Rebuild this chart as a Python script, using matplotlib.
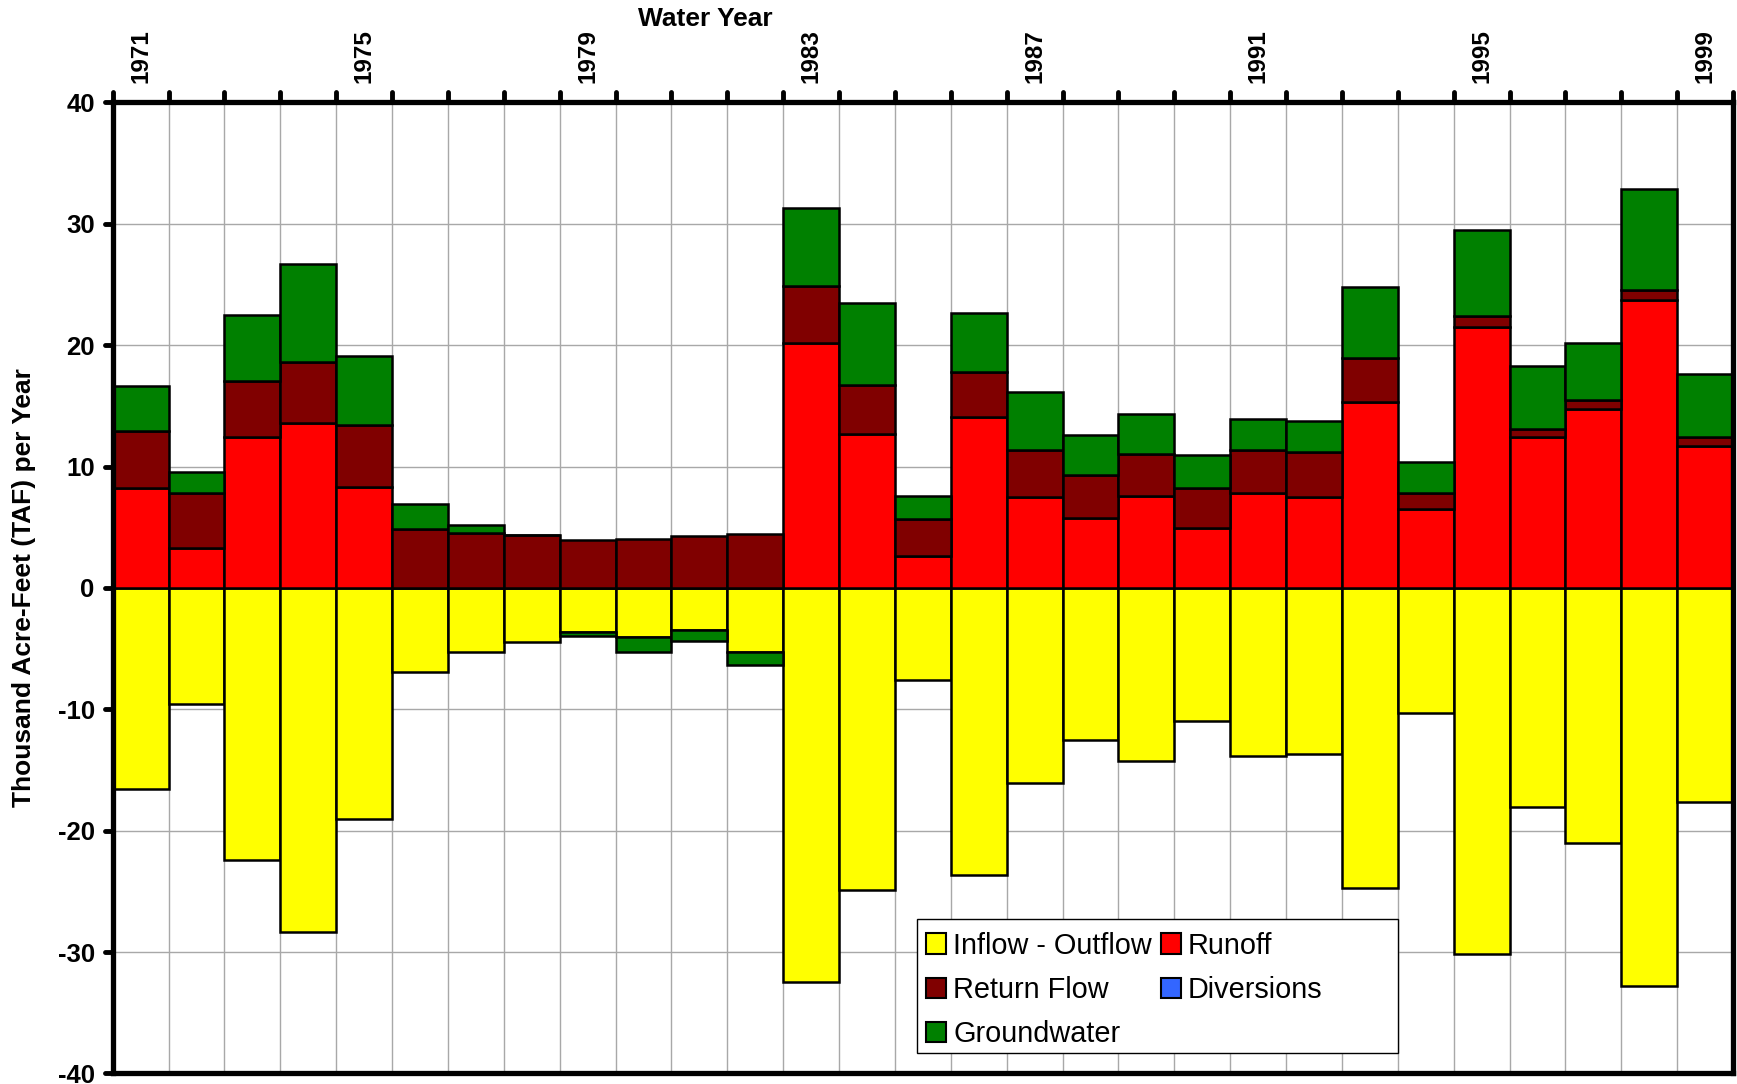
import matplotlib.pyplot as plt
import numpy as np
from matplotlib.patches import Patch, Rectangle
from matplotlib.markers import MarkerStyle

# water budget components, thousand acre-feet per year
years = list(range(1971, 2000))
runoff = [8.25, 3.28, 12.4, 13.6, 8.28, 0, 0, 0, 0, 0, 0, 0,
          20.15, 12.69, 2.62, 14.04, 7.48, 5.79, 7.53, 4.91, 7.81, 7.48,
          15.28, 6.51, 21.52, 12.47, 14.76, 23.74, 11.67]
return_flow = [4.65, 4.52, 4.65, 5.0, 5.18, 4.86, 4.55, 4.33, 3.92, 4.0, 4.28, 4.47,
               4.75, 4.05, 3.04, 3.73, 3.89, 3.51, 3.5, 3.28, 3.56, 3.69,
               3.7, 1.27, 0.91, 0.63, 0.74, 0.76, 0.8]
groundwater = [3.7, 1.77, 5.42, 8.11, 5.64, 2.04, 0.61, 0.0, -0.33, -1.16, -0.96, -1.05,
               6.4, 6.76, 1.9, 4.91, 4.73, 3.28, 3.31, 2.79, 2.56, 2.57,
               5.82, 2.62, 7.07, 5.19, 4.64, 8.35, 5.13]
inflow_outflow = [-16.6, -9.56, -22.4, -28.38, -19.07, -6.9, -5.25, -4.47, -3.67, -4.08, -3.45, -5.3,
                  -32.5, -24.86, -7.58, -23.62, -16.05, -12.53, -14.26, -10.94, -13.85, -13.68,
                  -24.73, -10.33, -30.16, -18.02, -21.04, -32.8, -17.64]
diversions = [0.0] * 29
label_years = years[::4]

colors = {'Inflow - Outflow': '#ffff00', 'Runoff': '#ff0000', 'Return Flow': '#800000',
          'Diversions': '#3366ff', 'Groundwater': '#008000'}

plt.rcParams['font.family'] = ['Liberation Sans', 'DejaVu Sans']
plt.rcParams['axes.unicode_minus'] = False

fig = plt.figure(figsize=(17.37, 10.84), dpi=100)
ax = fig.add_axes([0.0649, 0.0097, 0.9328, 0.8959])

x = np.arange(len(years))
runoff = np.array(runoff)
return_flow = np.array(return_flow)
groundwater = np.array(groundwater)
inflow_outflow = np.array(inflow_outflow)

edge = dict(width=1.0, edgecolor='black', linewidth=1.8)
ax.bar(x, inflow_outflow, color=colors['Inflow - Outflow'], **edge)
ax.bar(x, runoff, color=colors['Runoff'], **edge)
ax.bar(x, return_flow, bottom=runoff, color=colors['Return Flow'], **edge)
# groundwater sits on top when positive, below inflow-outflow when negative
gw_bottom = np.where(groundwater >= 0, runoff + return_flow, inflow_outflow)
ax.bar(x, groundwater, bottom=gw_bottom, color=colors['Groundwater'], **edge)

ax.set_xlim(-0.5, len(years) - 0.5)
ax.set_ylim(-40, 40)
ax.xaxis.tick_top()
ax.set_xticks(np.arange(-0.5, len(years), 1.0))
ax.set_xticklabels([])
ax.set_xticks(x[::4], minor=True)
ax.set_xticklabels([str(y) for y in label_years], minor=True, rotation=90,
                   fontsize=17.5, fontweight='bold')
ax.tick_params(axis='x', which='major', top=True, bottom=False, length=7, width=3.5)
ax.tick_params(axis='x', which='minor', top=True, bottom=False, length=0, pad=14,
               labeltop=True, labelbottom=False)
ax.set_yticks(np.arange(-40, 41, 10))
ax.tick_params(axis='y', length=6, width=3.5, pad=7, labelsize=18.5)
for lab in ax.get_yticklabels():
    lab.set_fontweight('bold')

for line in list(ax.xaxis.get_majorticklines()) + list(ax.yaxis.get_majorticklines()):
    line.set_marker(MarkerStyle(line.get_marker(), capstyle='round'))

ax.grid(True, which='major', color='#a8a8a8', linewidth=1.0)
ax.set_axisbelow(True)
for sp in ax.spines.values():
    sp.set_linewidth(3.8)
    sp.set_color('black')

fig.text(705 / 1737, 1 - 19 / 1084, 'Water Year', ha='center', va='center',
         fontsize=19, fontweight='bold')
fig.text(24 / 1737, 1 - 588 / 1084, 'Thousand Acre-Feet (TAF) per Year', rotation=90,
         ha='center', va='center', fontsize=19, fontweight='bold')

# legend: column-wise fill gives the row order of the original
order = ['Inflow - Outflow', 'Return Flow', 'Groundwater', 'Runoff', 'Diversions']
handles = [Patch(facecolor=colors[k], edgecolor='black', linewidth=1.5, label=k) for k in order]
ax.add_patch(Rectangle((0.4964, 0.0211), 0.2966, 0.138, transform=ax.transAxes,
                       facecolor='white', edgecolor='black', linewidth=1.0, zorder=4.5))
ax.legend(handles=handles, ncol=2, loc='upper left', bbox_to_anchor=(0.4964, 0.155),
          frameon=False, fontsize=20.8, handlelength=0.7, handleheight=0.7,
          handletextpad=0.25, columnspacing=0.3, labelspacing=0.56,
          borderpad=0.3, borderaxespad=0)

fig.savefig('out.png', dpi=100)
